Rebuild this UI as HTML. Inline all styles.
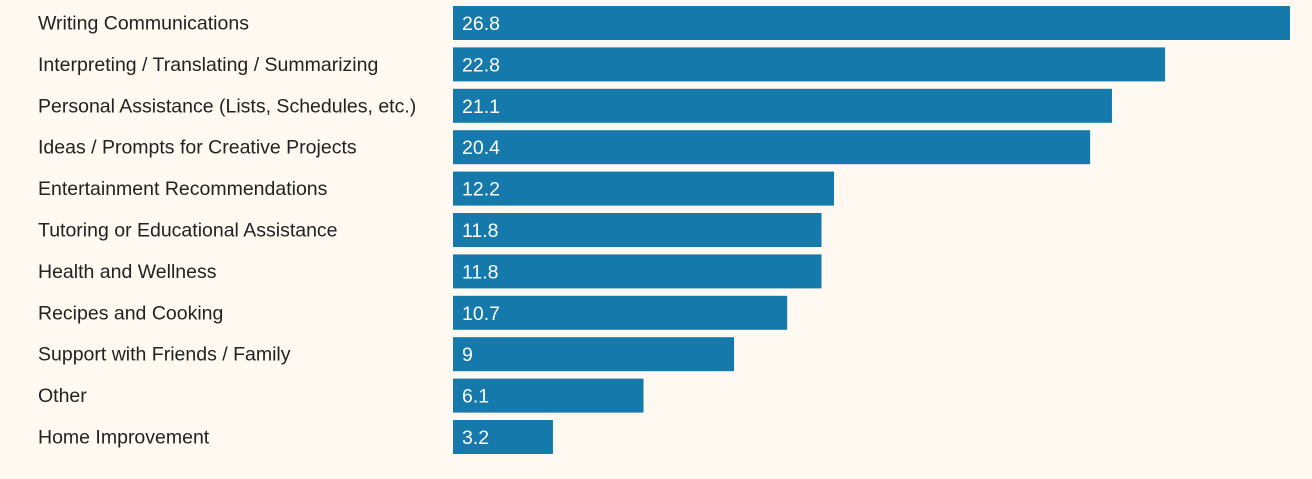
<!DOCTYPE html>
<html><head><meta charset="utf-8"><style>
html,body{margin:0;padding:0;background:#fff9f2;}
svg{display:block;font-family:"Liberation Sans",sans-serif;}
</style></head><body>
<svg id="chart" width="1312" height="479" viewBox="0 0 1312 479">
<rect width="1312" height="479" fill="#fff9f2"/>
<g id="bars"></g>
</svg>
<script>
const categories = ["Writing Communications","Interpreting / Translating / Summarizing","Personal Assistance (Lists, Schedules, etc.)","Ideas / Prompts for Creative Projects","Entertainment Recommendations","Tutoring or Educational Assistance","Health and Wellness","Recipes and Cooking","Support with Friends / Family","Other","Home Improvement"];
const values = [26.8,22.8,21.1,20.4,12.2,11.8,11.8,10.7,9,6.1,3.2];
const valueLabels = ["26.8","22.8","21.1","20.4","12.2","11.8","11.8","10.7","9","6.1","3.2"];

const x0 = 453, pxPerUnit = 837/26.8;
const xScale = v => x0 + v*pxPerUnit;
const yCenter = i => 23 + i*41.4;
const barH = 34;
const NS = "http://www.w3.org/2000/svg";
const g = document.getElementById("bars");
categories.forEach((c,i)=>{
  const cy = yCenter(i);
  const lab = document.createElementNS(NS,"text");
  
  
  lab.setAttribute("x",38); lab.setAttribute("y",cy+6.5);
  lab.setAttribute("font-size","19.5"); lab.setAttribute("fill","#222");
  lab.textContent = c; g.appendChild(lab);
  const r = document.createElementNS(NS,"rect");
  
  
  r.setAttribute("x",x0); r.setAttribute("y",cy-barH/2);
  r.setAttribute("width",xScale(values[i])-x0); r.setAttribute("height",barH);
  r.setAttribute("fill","#157aab"); g.appendChild(r);
  const t = document.createElementNS(NS,"text");
  
  
  t.setAttribute("x",x0+9); t.setAttribute("y",cy+7);
  t.setAttribute("font-size","19.5"); t.setAttribute("fill","#fff");
  t.textContent = valueLabels[i]; g.appendChild(t);
});
</script>
</body></html>
